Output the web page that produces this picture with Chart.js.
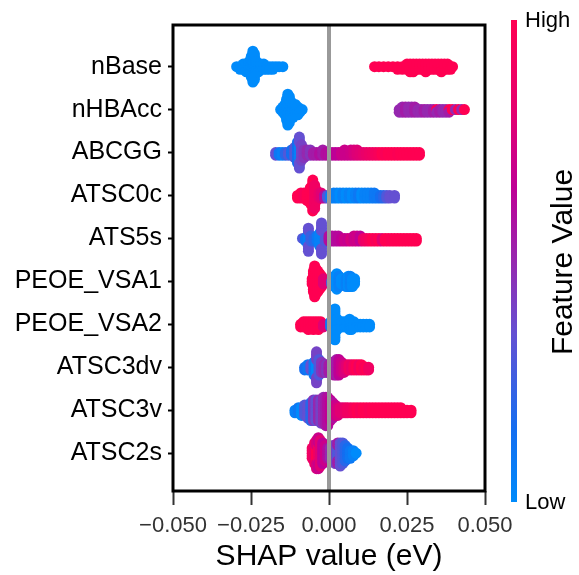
<!DOCTYPE html>
<html>
<head>
<meta charset="utf-8">
<script src="https://cdn.jsdelivr.net/npm/chart.js@4"></script>
<style>
  html, body { margin: 0; padding: 0; background: #fff; }
  #wrap { width: 579px; height: 575px; }
</style>
</head>
<body>
<div id="wrap"><canvas id="shapChart" width="579" height="575"></canvas></div>
<script>
// features, top to bottom
const features = ['nBase', 'nHBAcc', 'ABCGG', 'ATSC0c', 'ATS5s', 'PEOE_VSA1', 'PEOE_VSA2', 'ATSC3dv', 'ATSC3v', 'ATSC2s'];
const xTicks = [-0.05, -0.025, 0, 0.025, 0.05];
const xTickLabels = ['\u22120.050', '\u22120.025', '0.000', '0.025', '0.050'];

// each entry: [SHAP value, how many samples at that value, feature value 0 (low) .. 1 (high)]
const shapNBase = [
  [-0.0296,1,0],[-0.0285,2,0],[-0.0275,3,0],[-0.0265,4,0],[-0.0256,5,0],[-0.0249,9,0],[-0.0244,13,0],
  [-0.0239,11,0],[-0.0233,5,0],[-0.0226,4,0],[-0.0218,3,0],[-0.0209,3,0],[-0.0200,2,0],[-0.0190,2,0],
  [-0.0180,2,0],[-0.0170,1,0],[-0.0160,1,0],[-0.0148,1,0],
  [0.0146,1,1],[0.0160,1,1],[0.0175,1,1],[0.0190,1,1],[0.0205,1,1],[0.0220,2,1],[0.0235,2,1],[0.0250,3,1],
  [0.0260,4,1],[0.0270,4,1],[0.0280,3,1],[0.0290,3,1],[0.0300,3,1],[0.0310,4,1],[0.0320,3,1],[0.0330,3,1],
  [0.0340,3,1],[0.0350,3,1],[0.0360,4,1],[0.0370,3,1],[0.0380,3,1],[0.0390,2,1],[0.0396,1,1]
];
const shapNHBAcc = [
  [-0.0155,1,0],[-0.0148,3,0],[-0.0141,5,0],[-0.0136,9,0],[-0.0132,13,0],[-0.0127,11,0],[-0.0121,7,0],
  [-0.0115,6,0],[-0.0108,5,0],[-0.0100,4,0],[-0.0093,2,0],[-0.0086,1,0],
  [0.0225,2,0.5],[0.0235,3,0.5],[0.0245,3,0.55],[0.0255,3,0.5],[0.0265,3,0.5],[0.0275,3,0.55],[0.0285,2,0.5],
  [0.0295,2,0.5],[0.0305,2,0.55],[0.0315,2,0.5],[0.0325,2,0.5],[0.0335,2,0.55],[0.0345,1,1],[0.0345,1,0.5],
  [0.0355,2,0.55],[0.0365,2,0.5],[0.0375,2,0.5],[0.0385,1,1],[0.0385,1,0.55],[0.0395,1,1],[0.0405,1,0.5],
  [0.0415,1,1],[0.0425,1,0.5],[0.0434,1,1]
];
const shapABCGG = [
  [-0.0171,2,0.35],[-0.0160,2,0.1],[-0.0150,2,0.05],[-0.0140,2,0.2],[-0.0130,2,0.3],[-0.0120,3,0.15],
  [-0.0110,5,0.3],[-0.0101,9,0.15],[-0.0095,7,0.05],[-0.0095,6,0.35],[-0.0088,7,0.4],[-0.0080,4,0.45],
  [-0.0070,3,0.5],[-0.0060,3,0.45],[-0.0050,2,0.55],[-0.0040,2,0.55],[-0.0030,2,0.6],[-0.0020,3,0.55],
  [-0.0010,2,0.6],[0.0000,2,0.6],[0.0010,2,0.6],[0.0020,2,0.65],[0.0030,2,0.65],[0.0040,2,0.7],
  [0.0050,3,0.7],[0.0060,2,0.7],[0.0070,3,0.72],[0.0080,3,0.75],[0.0090,3,0.78],[0.0100,2,0.8],
  [0.0110,2,0.82],[0.0120,2,0.85],[0.0130,2,0.88],[0.0140,2,0.9],[0.0150,2,0.92],[0.0160,2,0.95],
  [0.0170,2,1],[0.0180,2,0.97],[0.0190,2,1],[0.0200,2,1],[0.0210,2,1],[0.0220,2,0.98],[0.0230,2,1],
  [0.0240,2,1],[0.0250,2,1],[0.0260,2,1],[0.0270,2,1],[0.0280,2,1],[0.0290,2,1]
];
const shapATSC0c = [
  [-0.0101,2,1],[-0.0090,3,1],[-0.0080,3,0.95],[-0.0070,4,1],[-0.0060,7,1],[-0.0052,13,1],[-0.0046,10,0.9],
  [-0.0040,5,0.9],[-0.0032,3,0.85],[-0.0025,3,0.8],[-0.0015,2,0.6],[-0.0005,2,0.3],[0.0005,2,0.05],
  [0.0015,3,0.05],[0.0025,3,0.05],[0.0035,3,0],[0.0045,3,0.05],[0.0055,3,0],[0.0065,3,0.05],[0.0075,3,0],
  [0.0085,3,0.05],[0.0095,3,0.1],[0.0105,3,0],[0.0115,3,0.05],[0.0125,3,0.05],[0.0135,3,0.05],
  [0.0145,3,0.1],[0.0155,2,0.1],[0.0165,2,0.15],[0.0175,2,0.2],[0.0185,2,0.3],[0.0195,2,0.35],[0.0210,2,0.35]
];
const shapATS5s = [
  [-0.0085,1,0.3],[-0.0075,2,0.1],[-0.0066,5,0.05],[-0.0066,5,0.35],[-0.0058,3,0.25],[-0.0048,2,0.2],
  [-0.0038,3,0.1],[-0.0030,6,0.05],[-0.0024,6,0.05],[-0.0024,7,0.35],[-0.0012,2,0.3],[0.0000,3,0.6],
  [0.0010,3,0.62],[0.0020,3,0.6],[0.0030,3,0.62],[0.0040,2,0.65],[0.0050,2,0.7],[0.0060,2,0.68],
  [0.0070,2,0.75],[0.0080,3,0.7],[0.0090,3,0.72],[0.0100,3,0.65],[0.0110,2,0.85],[0.0120,2,0.9],
  [0.0130,2,0.95],[0.0140,2,1],[0.0150,2,0.95],[0.0160,2,1],[0.0170,2,0.8],[0.0180,2,1],[0.0190,2,1],
  [0.0200,2,0.97],[0.0210,2,1],[0.0220,2,1],[0.0230,2,1],[0.0240,2,1],[0.0250,2,1],[0.0260,2,1],
  [0.0270,2,1],[0.0280,2,1]
];
const shapPEOEVSA1 = [
  [-0.0054,3,1],[-0.0050,9,1],[-0.0046,13,1],[-0.0042,11,1],[-0.0036,9,1],[-0.0030,7,1],[-0.0024,5,1],
  [-0.0018,3,0.8],[0.0008,2,0.3],[0.0018,5,0.05],[0.0025,7,0],[0.0032,5,0.05],[0.0040,3,0],[0.0048,3,0],
  [0.0055,4,0.05],[0.0062,5,0],[0.0068,5,0.05],[0.0075,4,0],[0.0082,3,0]
];
const shapPEOEVSA2 = [
  [-0.0091,2,1],[-0.0082,3,1],[-0.0074,3,1],[-0.0066,4,1],[-0.0058,3,1],[-0.0050,4,1],[-0.0042,3,1],
  [-0.0034,4,1],[-0.0026,3,1],[-0.0018,2,0.8],[0.0005,3,0.1],[0.0013,7,0],[0.0019,13,0],[0.0026,5,0],
  [0.0034,3,0],[0.0042,3,0],[0.0050,3,0],[0.0058,3,0],[0.0066,5,0],[0.0072,4,0],[0.0080,3,0],
  [0.0090,2,0],[0.0100,2,0],[0.0110,2,0],[0.0120,2,0],[0.0130,2,0]
];
const shapATSC3dv = [
  [-0.0078,2,0.15],[-0.0068,3,0.1],[-0.0058,3,0.35],[-0.0048,6,0.1],[-0.0040,6,0],[-0.0040,7,0.4],
  [-0.0032,7,0.3],[-0.0024,5,0.45],[-0.0016,4,0.5],[-0.0008,4,0.45],[0.0000,4,0.55],[0.0008,5,0.55],
  [0.0016,6,0.6],[0.0024,7,0.55],[0.0032,7,0.65],[0.0040,5,0.7],[0.0048,4,0.75],[0.0056,3,0.8],
  [0.0064,3,0.9],[0.0072,3,0.85],[0.0080,3,0.95],[0.0088,3,1],[0.0096,3,0.9],[0.0104,3,1],
  [0.0112,2,0.95],[0.0120,2,1],[0.0127,2,0.9]
];
const shapATSC3v = [
  [-0.0109,2,0.05],[-0.0098,3,0.1],[-0.0088,4,0],[-0.0078,5,0.3],[-0.0068,6,0.35],[-0.0058,8,0.2],
  [-0.0050,9,0.45],[-0.0042,9,0.35],[-0.0034,9,0.5],[-0.0026,10,0.4],[-0.0018,11,0.5],[-0.0010,12,0.55],
  [-0.0004,12,0.6],[0.0004,9,0.65],[0.0012,7,0.6],[0.0020,5,0.7],[0.0028,4,0.75],[0.0036,3,0.8],
  [0.0044,3,0.8],[0.0052,3,0.85],[0.0060,3,0.9],[0.0070,3,0.9],[0.0080,3,0.95],[0.0090,3,1],
  [0.0100,3,0.95],[0.0110,3,1],[0.0120,3,1],[0.0130,3,0.97],[0.0140,3,1],[0.0150,3,1],[0.0160,3,1],
  [0.0170,3,1],[0.0180,3,1],[0.0190,3,1],[0.0200,3,1],[0.0210,3,1],[0.0220,3,1],[0.0230,3,1],
  [0.0240,2,1],[0.0250,2,1],[0.0263,2,1]
];
const shapATSC2s = [
  [-0.0054,5,0.9],[-0.0046,9,0.85],[-0.0040,6,1],[-0.0040,6,0.75],[-0.0034,7,0.9],[-0.0034,6,0.7],
  [-0.0028,11,0.8],[-0.0020,9,0.65],[-0.0012,7,0.7],[-0.0004,5,0.6],[0.0004,5,0.5],[0.0012,7,0.45],
  [0.0020,8,0.4],[0.0028,5,0.3],[0.0028,4,0.55],[0.0036,10,0.35],[0.0044,9,0.3],[0.0052,7,0.2],
  [0.0060,5,0.15],[0.0068,4,0.1],[0.0078,3,0.05],[0.0087,1,0]
];
const featureShap = [shapNBase, shapNHBAcc, shapABCGG, shapATSC0c, shapATS5s,
                     shapPEOEVSA1, shapPEOEVSA2, shapATSC3dv, shapATSC3v, shapATSC2s];

// red_blue colour map, low -> high
const colorStops = [
  [0, [0, 139, 251]], [0.15, [20, 110, 240]], [0.35, [100, 80, 210]], [0.5, [150, 40, 175]],
  [0.65, [190, 0, 150]], [0.82, [230, 0, 110]], [1, [255, 0, 82]]
];
function featureColor(c) {
  for (let i = 1; i < colorStops.length; i++) {
    const [p1, c1] = colorStops[i];
    const [p0, c0] = colorStops[i - 1];
    if (c <= p1) {
      const t = (c - p0) / (p1 - p0);
      const rgb = c0.map((v, k) => Math.round(v + (c1[k] - v) * t));
      return `rgb(${rgb.join(',')})`;
    }
  }
  return 'rgb(255,0,82)';
}

// beeswarm: samples that fall in the same bin are stacked up and down around the row
const stackStep = 0.06;
function swarm(entries, row) {
  const counts = {};
  const pts = [];
  entries.forEach(([x, n, c]) => {
    const key = Math.round(x / 0.0004);
    for (let k = 0; k < n; k++) {
      const j = counts[key] || 0;
      counts[key] = j + 1;
      const off = Math.ceil(j / 2) * (j % 2 ? -1 : 1);
      pts.push({ x: x, y: row + off * stackStep, c: c });
    }
  });
  return pts;
}

const datasets = featureShap.map((entries, i) => {
  const pts = swarm(entries, features.length - 1 - i);
  return {
    label: features[i],
    data: pts,
    pointRadius: 5.5,
    pointHoverRadius: 5.5,
    pointBorderWidth: 0,
    pointBackgroundColor: pts.map(p => featureColor(p.c))
  };
});

const fontFamily = '"Liberation Sans", Arial, sans-serif';

const shapDecor = {
  id: 'shapDecor',
  afterDatasetsDraw(chart) {
    const { ctx, chartArea: a, scales: { x } } = chart;
    ctx.save();
    // zero line
    const x0 = x.getPixelForValue(0);
    ctx.strokeStyle = '#999999';
    ctx.lineWidth = 4;
    ctx.beginPath();
    ctx.moveTo(x0, a.top);
    ctx.lineTo(x0, a.bottom);
    ctx.stroke();
    // frame
    ctx.strokeStyle = '#000';
    ctx.lineWidth = 3;
    ctx.strokeRect(a.left, a.top, a.right - a.left, a.bottom - a.top);
    ctx.restore();
  },
  afterDraw(chart) {
    const ctx = chart.ctx;
    ctx.save();
    // colour bar
    const barTop = 20, barBottom = 502;
    const grad = ctx.createLinearGradient(0, barBottom, 0, barTop);
    colorStops.forEach(([p, rgb]) => grad.addColorStop(p, `rgb(${rgb.join(',')})`));
    ctx.fillStyle = grad;
    ctx.fillRect(511, barTop, 6, barBottom - barTop);
    ctx.fillStyle = '#000';
    ctx.font = '22px ' + fontFamily;
    ctx.textAlign = 'left';
    ctx.textBaseline = 'middle';
    ctx.fillText('High', 525, 21);
    ctx.fillText('Low', 525, 503);
    ctx.translate(564, 262);
    ctx.rotate(-Math.PI / 2);
    ctx.textAlign = 'center';
    ctx.font = '30px ' + fontFamily;
    ctx.fillText('Feature Value', 0, 0);
    ctx.restore();
  }
};

const ctx = document.getElementById('shapChart').getContext('2d');
new Chart(ctx, {
  type: 'scatter',
  data: { datasets: datasets },
  options: {
    responsive: false,
    animation: false,
    devicePixelRatio: 1,
    layout: { padding: { top: 25, right: 94, bottom: 0, left: 0 } },
    plugins: { legend: { display: false }, tooltip: { enabled: false } },
    scales: {
      x: {
        type: 'linear',
        min: -0.05,
        max: 0.05,
        afterBuildTicks: s => { s.ticks = xTicks.map(v => ({ value: v })); },
        afterFit: s => { s.height = 84; },
        border: { display: false },
        grid: { drawOnChartArea: false, drawTicks: true, tickLength: 14, tickWidth: 2, tickColor: '#333' },
        ticks: {
          autoSkip: false, maxRotation: 0, padding: 8, color: '#333',
          font: { family: fontFamily, size: 22 },
          callback: (v, i) => xTickLabels[i]
        },
        title: {
          display: true, text: 'SHAP value (eV)', color: '#000',
          font: { family: fontFamily, size: 30 }, padding: { top: 0, bottom: 0 }
        }
      },
      y: {
        type: 'linear',
        min: -0.88,
        max: 9.97,
        afterBuildTicks: s => { s.ticks = features.map((f, i) => ({ value: i })); },
        afterFit: s => { s.width = 173; },
        border: { display: false },
        grid: { drawOnChartArea: false, drawTicks: true, tickLength: 5, tickWidth: 2, tickColor: '#000' },
        ticks: {
          autoSkip: false, padding: 6, color: '#000',
          font: { family: fontFamily, size: 25 },
          callback: v => features[features.length - 1 - v]
        }
      }
    }
  },
  plugins: [shapDecor]
});
</script>
</body>
</html>
